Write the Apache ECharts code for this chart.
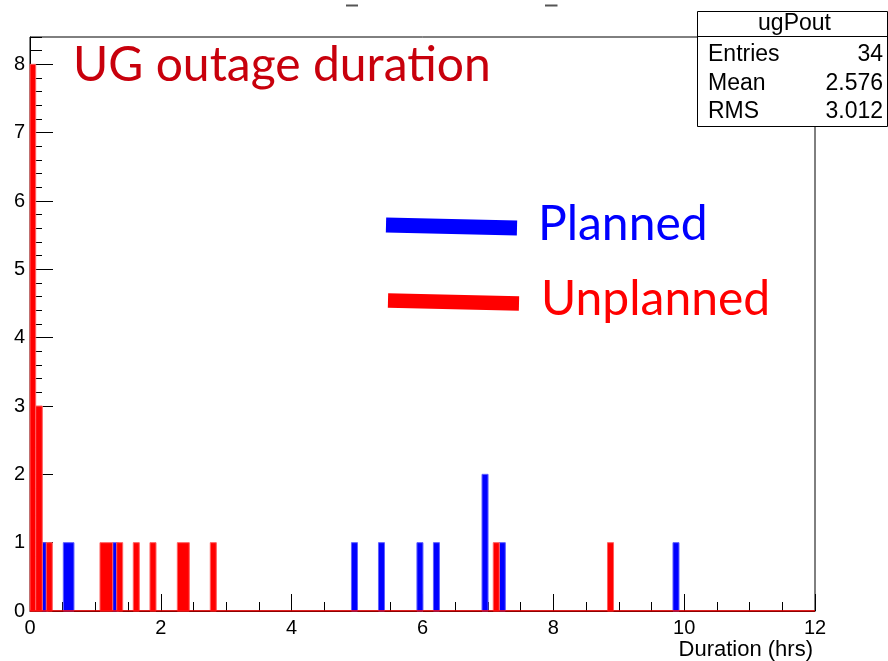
<!DOCTYPE html>
<html>
<head>
<meta charset="utf-8">
<script src="https://cdn.jsdelivr.net/npm/echarts@6/dist/echarts.min.js"></script>
<style>html,body{margin:0;padding:0;background:#fff;}#c{width:888px;height:661px;}</style>
</head>
<body>
<div id="c"></div>
<script>
// Histogram bins: [binStart, binEnd, count]
var plannedBins = [
  [0.188, 0.280, 1],
  [0.509, 0.672, 1],
  [1.264, 1.356, 1],
  [4.914, 5.006, 1],
  [5.327, 5.419, 1],
  [5.915, 6.007, 1],
  [6.167, 6.259, 1],
  [6.910, 7.002, 2],
  [7.174, 7.266, 1],
  [9.829, 9.921, 1]
];
var unplannedBins = [
  [0.000, 0.087, 8],
  [0.087, 0.188, 3],
  [0.249, 0.341, 1],
  [1.070, 1.264, 1],
  [1.325, 1.417, 1],
  [1.579, 1.671, 1],
  [1.834, 1.926, 1],
  [2.252, 2.435, 1],
  [2.756, 2.848, 1],
  [7.082, 7.174, 1],
  [8.828, 8.920, 1]
];
var xRange = [0, 12];
var yRange = [0, 8.4];
var titleText = 'UG outage duration';
var xTitle = 'Duration (hrs)';
var legendNames = ['Planned', 'Unplanned'];
var statsTitle = 'ugPout';
var statsLabels = ['Entries', 'Mean', 'RMS'];
var statsValues = ['34', '2.576', '3.012'];

var FONT = 'Liberation Sans';
var chart = echarts.init(document.getElementById('c'), null, {renderer: 'canvas'});

function binRenderer(color, edge) {
  return function (params, api) {
    var p0 = api.coord([api.value(0), api.value(2)]);
    var p1 = api.coord([api.value(1), 0]);
    return {
      type: 'rect',
      shape: {x: p0[0], y: p0[1], width: p1[0] - p0[0], height: p1[1] - p0[1]},
      style: {fill: color, stroke: edge, lineWidth: 1}
    };
  };
}

var gridRect = {left: 30, top: 37, right: 73, bottom: 50, containLabel: false};
var statFont = '23px "Liberation Sans"';

var option = {
  backgroundColor: '#fff',
  animation: false,
  grid: [
    Object.assign({show: true, borderColor: '#000', borderWidth: 1, backgroundColor: 'transparent'}, gridRect),
    Object.assign({show: false}, gridRect)
  ],
  xAxis: [{
    type: 'value', gridIndex: 0, min: xRange[0], max: xRange[1], interval: 2,
    name: xTitle, nameLocation: 'end', nameGap: -2,
    nameTextStyle: {fontFamily: FONT, fontSize: 22, color: '#000', align: 'right', verticalAlign: 'top', padding: [28, 0, 0, 0]},
    axisLine: {show: true, onZero: false, lineStyle: {color: '#000', width: 1}},
    axisTick: {show: true, inside: true, length: 17, lineStyle: {color: '#000', width: 1}},
    minorTick: {show: true, splitNumber: 4, length: 9, lineStyle: {color: '#000', width: 1}},
    splitLine: {show: false}, minorSplitLine: {show: false},
    axisLabel: {fontFamily: FONT, fontSize: 20, color: '#000', margin: 7}
  }, {
    type: 'value', gridIndex: 1, min: xRange[0], max: xRange[1], show: false
  }],
  yAxis: [{
    type: 'value', gridIndex: 0, min: yRange[0], max: yRange[1], interval: 1,
    axisLine: {show: true, onZero: false, lineStyle: {color: '#000', width: 1}},
    axisTick: {show: true, inside: true, length: 23, lineStyle: {color: '#000', width: 1}},
    splitLine: {show: false},
    axisLabel: {fontFamily: FONT, fontSize: 20, color: '#000', margin: 5, showMaxLabel: false}
  }, {
    type: 'value', gridIndex: 1, min: yRange[0], max: yRange[1], interval: 0.2,
    axisLine: {show: false},
    axisTick: {show: true, inside: true, length: 12, lineStyle: {color: '#000', width: 1}},
    splitLine: {show: false},
    axisLabel: {show: false}
  }],
  series: [{
    name: legendNames[0], type: 'custom', xAxisIndex: 0, yAxisIndex: 0, z: 3,
    renderItem: binRenderer('#0000ff', '#6060ff'),
    encode: {x: [0, 1], y: 2},
    data: plannedBins
  }, {
    name: legendNames[1], type: 'custom', xAxisIndex: 0, yAxisIndex: 0, z: 4,
    renderItem: binRenderer('#ff0000', '#ff6060'),
    encode: {x: [0, 1], y: 2},
    data: unplannedBins
  }, {
    name: 'baseline', type: 'line', xAxisIndex: 0, yAxisIndex: 0, z: 5,
    symbol: 'none', silent: true,
    lineStyle: {color: '#ff0000', width: 1.5},
    data: [[xRange[0], 0], [xRange[1], 0]]
  }],
  graphic: [
    // cropped marks at top
    {type: 'line', z: 100, shape: {x1: 346, y1: 5.5, x2: 358, y2: 5.5}, style: {stroke: '#555', lineWidth: 2}},
    {type: 'line', z: 100, shape: {x1: 545, y1: 5.5, x2: 557.5, y2: 5.5}, style: {stroke: '#555', lineWidth: 2}},
    // title
    {type: 'text', z: 100, left: 73, top: 42,
     style: {text: titleText, fill: '#c8000c', font: '48px Lato'}},
    // legend annotations
    {type: 'line', z: 100, shape: {x1: 386, y1: 225, x2: 517, y2: 228}, style: {stroke: '#0000ff', lineWidth: 15, lineCap: 'butt'}},
    {type: 'line', z: 100, shape: {x1: 388, y1: 300.5, x2: 519, y2: 303.5}, style: {stroke: '#ff0000', lineWidth: 14.5, lineCap: 'butt'}},
    {type: 'text', z: 100, x: 538, y: 225, style: {text: legendNames[0], fill: '#0000ff', font: '48px Lato', textVerticalAlign: 'middle'}},
    {type: 'text', z: 100, x: 541, y: 300, style: {text: legendNames[1], fill: '#ff0000', font: '48px Lato', textVerticalAlign: 'middle'}},
    // stats box
    {type: 'rect', z: 100, shape: {x: 697.5, y: 11.5, width: 190, height: 115}, style: {fill: '#fff', stroke: '#000', lineWidth: 1}},
    {type: 'line', z: 101, shape: {x1: 697.5, y1: 36.5, x2: 888, y2: 36.5}, style: {stroke: '#000', lineWidth: 1}},
    {type: 'text', z: 101, x: 794.5, y: 24, style: {text: statsTitle, fill: '#000', font: statFont, textAlign: 'center', textVerticalAlign: 'middle'}},
    {type: 'text', z: 101, x: 708, y: 55, style: {text: statsLabels[0], fill: '#000', font: statFont, textVerticalAlign: 'middle'}},
    {type: 'text', z: 101, x: 708, y: 84, style: {text: statsLabels[1], fill: '#000', font: statFont, textVerticalAlign: 'middle'}},
    {type: 'text', z: 101, x: 708, y: 112, style: {text: statsLabels[2], fill: '#000', font: statFont, textVerticalAlign: 'middle'}},
    {type: 'text', z: 101, x: 883, y: 55, style: {text: statsValues[0], fill: '#000', font: statFont, textAlign: 'right', textVerticalAlign: 'middle'}},
    {type: 'text', z: 101, x: 883, y: 84, style: {text: statsValues[1], fill: '#000', font: statFont, textAlign: 'right', textVerticalAlign: 'middle'}},
    {type: 'text', z: 101, x: 883, y: 112, style: {text: statsValues[2], fill: '#000', font: statFont, textAlign: 'right', textVerticalAlign: 'middle'}}
  ]
};
chart.setOption(option);
</script>
</body>
</html>
